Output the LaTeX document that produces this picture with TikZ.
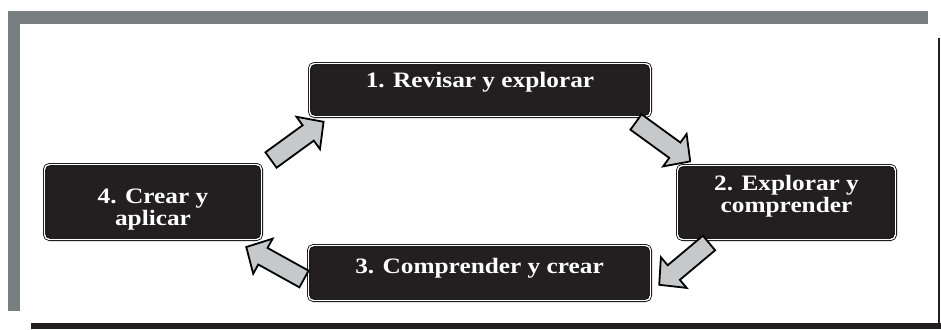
\documentclass[tikz,border=0pt]{standalone}
\usepackage{fontspec}
\setmainfont{Liberation Serif}[FakeStretch=1.15]
\definecolor{barra}{RGB}{118,126,127}
\definecolor{caja}{RGB}{35,31,32}
\definecolor{gris}{RGB}{199,200,202}
\newcommand{\fl}[3]{\begin{scope}[shift={(#1)},rotate=#2]
  \filldraw[flecha] (0,-9.5) -- (#3-19,-9.5) -- (#3-19,-20) -- (#3,0) -- (#3-19,20) -- (#3-19,9.5) -- (0,9.5) -- cycle;
  \end{scope}}

\begin{document}
\begin{tikzpicture}[x=1pt,y=-1pt,
  etapa/.style={draw=black,line width=0.8pt,double=white,double distance=1.4pt,fill=caja,rounded corners=5pt,
    text=white,font=\fontsize{22}{22}\selectfont\bfseries,align=center,inner sep=0pt},
  flecha/.style={draw=black,line width=1.8pt,fill=gris,line join=miter}]
  \useasboundingbox (0,0) rectangle (941,329);
  % marco
  \fill[barra] (8,11) rectangle (928,24);
  \fill[barra] (8,11) rectangle (20,311);
  \fill[caja] (31,323) rectangle (941,329);
  \fill[caja] (938,38) rectangle (940,323);
  % etapas
  \node[etapa,minimum width=341pt,text height=23.5pt,text depth=29.5pt] (b1) at (480,90) {1. Revisar y explorar};
  \node[etapa,minimum width=218pt,text height=46.5pt,text depth=27.5pt] (b2) at (786.5,202.5) {2. Explorar y\\comprender};
  \node[etapa,minimum width=342pt,text height=27.5pt,text depth=27.5pt] (b3) at (479.5,273) {3. Comprender y crear};
  \node[etapa,minimum width=217pt,text height=60.5pt,text depth=14.5pt] (b4) at (153,202) {4. Crear y\\aplicar};
  % flechas
  \fl{271,160}{36}{65}
  \fl{636,122}{-36}{67}
  \fl{709,243}{-140}{65}
  \fl{304,279}{151}{66}
\end{tikzpicture}
\end{document}
